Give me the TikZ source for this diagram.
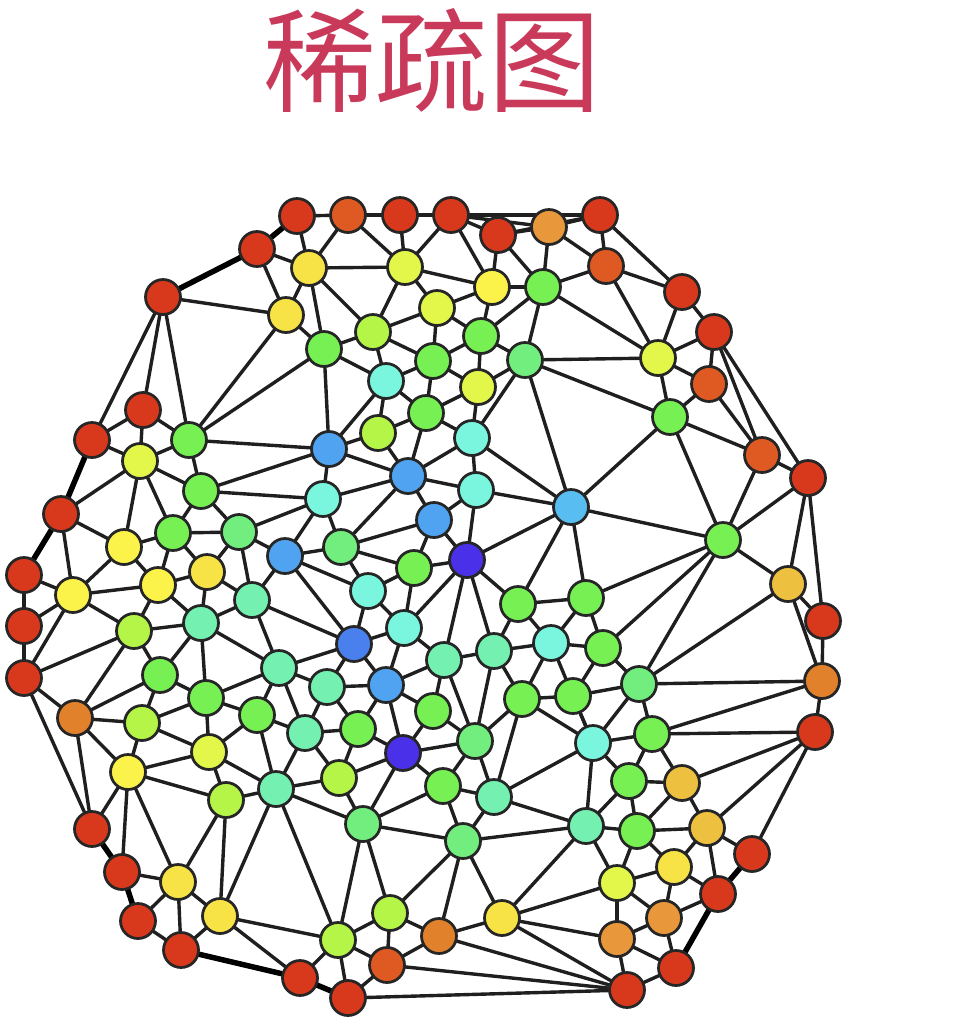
\documentclass[tikz,border=0pt]{standalone}
\usepackage{fontspec}
\newfontfamily\cjk{Noto Sans CJK SC}
\definecolor{cR}{HTML}{D8391C}
\definecolor{cD}{HTML}{DF5A22}
\definecolor{cO}{HTML}{E2812C}
\definecolor{cP}{HTML}{E8973A}
\definecolor{cA}{HTML}{EDC040}
\definecolor{cY}{HTML}{F7E346}
\definecolor{cW}{HTML}{FBF34A}
\definecolor{cE}{HTML}{E2F74A}
\definecolor{cL}{HTML}{B4F548}
\definecolor{cG}{HTML}{76F052}
\definecolor{cF}{HTML}{72EE7E}
\definecolor{cM}{HTML}{74F0B0}
\definecolor{cQ}{HTML}{7AF5DE}
\definecolor{cB}{HTML}{4FA3F0}
\definecolor{cS}{HTML}{58BDF0}
\definecolor{cN}{HTML}{4A80EE}
\definecolor{cI}{HTML}{4A30E8}
\definecolor{titlecol}{HTML}{C9395A}
\pgfdeclarelayer{edges}
\pgfsetlayers{edges,main}
\tikzset{
  vert/.style={circle,draw=black!85,line width=0.055cm,minimum size=0.7cm,inner sep=0pt},
  link/.style={draw=black!88,line width=0.068cm},
  heavy/.style={draw=black,line width=0.11cm},
  titletext/.style={text=titlecol,font=\cjk\fontsize{64}{72}\selectfont,inner sep=0pt}
}
\begin{document}
\begin{tikzpicture}[x=0.02cm,y=-0.02cm]
\useasboundingbox (0,0) rectangle (978,1036);
\node[titletext] (title) at (432,60) {稀疏图};
\foreach \n/\x/\y/\c in {
a1/297/216/R,a2/348/215/D,a3/400/215/R,a4/451/215/R,a5/498/235/R,a6/549/227/P,a7/600/215/R,a8/606/266/D,
a9/682/292/R,a10/714/332/R,a11/709/384/D,a12/762/455/D,a13/808/478/R,a14/788/584/A,a15/823/621/R,a16/822/681/O,
a17/815/732/R,a18/752/854/R,a19/718/894/R,a20/676/968/R,a21/627/990/R,a22/617/939/P,a23/664/918/P,a24/348/998/R,
a25/300/978/R,a26/181/950/R,a27/138/921/R,a28/122/872/R,a29/92/829/R,a30/75/718/O,a31/24/678/R,a32/24/626/R,
a33/24/575/R,a34/61/514/R,a35/92/440/R,a36/143/410/R,a37/163/297/R,a38/257/249/R,
b1/309/268/Y,b2/405/267/E,b3/492/287/W,b4/543/287/G,b5/286/315/Y,b6/437/308/E,b7/373/332/L,b8/324/349/G,
b9/481/336/G,b10/433/361/G,b11/525/360/F,b12/386/381/Q,b13/478/387/E,b14/426/413/G,b15/378/433/L,b16/472/438/Q,
b17/329/449/B,b18/408/476/B,b19/476/490/Q,b20/323/499/Q,b21/571/507/S,b22/434/520/B,b23/467/560/I,b24/285/556/B,
b25/341/547/F,b26/414/568/G,b27/368/591/Q,b28/404/628/Q,b29/354/644/N,b30/444/660/M,b31/494/651/M,b32/518/604/G,
b33/586/598/G,b34/551/643/Q,b35/603/648/G,b36/522/699/G,b37/573/696/G,b38/639/684/F,b39/723/540/G,b40/658/358/E,
b41/670/417/G,b42/386/685/B,b43/327/687/M,b44/433/711/G,b45/279/668/M,b46/305/733/M,b47/358/729/G,b48/403/753/I,
b49/475/741/F,b50/443/786/G,b51/494/797/M,b52/339/778/L,b53/276/789/M,b54/363/824/F,b55/463/841/F,b56/586/826/M,
b57/593/743/Q,b58/652/734/G,b59/629/781/G,b60/682/783/A,b61/637/831/G,b62/707/828/A,b63/674/867/Y,b64/617/883/E,
b65/502/918/Y,b66/439/936/O,b67/390/913/L,b68/338/940/L,b69/387/965/D,b70/220/916/Y,b71/178/882/Y,b72/226/800/L,
b73/128/772/W,b74/209/752/E,b75/142/723/L,b76/257/715/G,b77/206/698/G,b78/160/675/G,b79/134/631/L,b80/201/623/M,
b81/252/600/M,b82/73/595/W,b83/158/585/W,b84/207/572/Y,b85/124/547/W,b86/173/533/G,b87/239/532/F,b88/201/491/G,
b89/140/461/E,b90/189/440/G}
  \node[vert,fill=c\c] (\n) at (\x,\y) {};
\begin{pgfonlayer}{edges}
\foreach \p/\q in {
a1/a2,a2/a3,a3/a4,a4/a5,a4/a6,a5/a6,a6/a7,a5/a7,a4/a7,
a2/b1,a2/b2,a3/b2,a4/b2,a4/b3,a5/b3,a5/b4,a6/b4,a6/a8,a7/a8,a8/b4,a1/b1,a38/b1,a38/b5,b1/b5,b1/b8,b5/b8,b5/b90,b8/b90,
a37/b5,a37/a35,a37/a36,a37/b90,a36/a35,a36/b90,a36/b89,a35/b89,b89/b90,b90/b88,b89/b88,b90/b17,b88/b17,b8/b17,b88/b20,
b1/b2,b2/b3,b2/b6,b2/b7,b1/b7,b3/b4,b3/b6,b3/b9,b4/b9,b4/b11,b6/b7,b6/b9,b6/b10,b7/b8,b7/b10,b7/b12,b8/b12,
b9/b10,b9/b11,b9/b13,b10/b12,b10/b13,b11/b13,b11/b16,b11/b21,b11/b40,b11/b41,b4/b40,b10/b14,b12/b14,b13/b14,b13/b16,
b12/b15,b12/b17,b14/b15,b14/b16,b14/b18,b15/b17,b15/b18,b16/b18,b16/b19,b17/b18,b17/b20,b16/b21,b18/b19,b18/b20,b18/b25,b18/b22,
a7/a9,a8/a9,a8/b40,a9/a10,a9/b40,a10/b40,a10/a11,a11/b40,a11/b41,b40/b41,a10/a12,a10/a13,a11/a12,a12/a13,b41/a12,b41/b21,b41/b39,a12/b39,a13/b39,
b21/b39,b21/b33,b39/b33,b39/b35,b39/b38,a14/b38,b39/a14,a13/a14,a13/a15,a14/a15,a14/a16,a15/a16,a16/b38,a16/b58,a16/a17,a17/b58,a17/b60,a17/b62,a17/a18,
b38/b35,b38/b37,b38/b57,b38/b58,b33/b34,b33/b35,b34/b35,b34/b37,b35/b37,b37/b57,b57/b58,b58/b59,b58/b60,b57/b59,b57/b56,b59/b60,b59/b61,b59/b56,b56/b61,
b60/b61,b60/b62,b61/b62,b61/b63,b61/b64,b56/b64,b62/b63,b62/a18,b62/a19,b63/b64,b63/a19,b63/a23,b64/a23,b64/a22,a23/a22,a23/a19,a23/a20,a22/a20,a22/a21,a20/a21,
b56/b65,b56/b51,b56/b55,b64/b65,b65/a22,b65/a21,a21/b66,a21/b69,a21/a24,b51/b57,
b20/b24,b20/b25,b19/b22,b19/b23,b19/b21,b22/b25,b22/b23,b22/b26,b23/b26,b25/b26,b25/b24,b25/b27,b24/b27,b24/b29,b27/b26,b27/b28,b27/b29,b26/b28,b23/b28,b23/b30,b23/b31,b23/b32,b23/b21,
b21/b32,b28/b29,b28/b30,b28/b42,b29/b45,b29/b43,b29/b42,b30/b42,b30/b31,b30/b44,b30/b49,b31/b34,b31/b32,b31/b36,b31/b49,b32/b33,b32/b34,b34/b36,b36/b37,b36/b49,b36/b57,b37/b57,b36/b51,
b42/b43,b42/b44,b42/b47,b42/b48,b43/b45,b43/b46,b43/b47,b44/b48,b44/b49,b46/b47,b47/b48,b48/b49,b45/b46,b49/b51,b49/b50,b45/b76,b46/b76,b46/b53,b46/b52,b47/b52,b48/b52,b48/b50,b48/b54,
b89/a34,b89/b85,b89/b86,b88/b86,b88/b87,b87/b20,b86/b87,b85/b86,b86/b83,b86/b84,a34/b85,a34/b82,a33/b82,a33/a32,a32/a31,a32/b82,a31/b82,b85/b83,b85/b82,b82/b83,b82/b79,b83/b84,b83/b79,b83/b80,
b84/b87,b84/b80,b84/b81,b87/b81,b87/b24,b24/b81,b81/b80,b81/b45,b81/b29,b79/b80,b79/b78,b79/a31,b79/a30,b80/b78,b80/b77,b80/b45,b78/a30,b78/b77,b78/b75,b77/b75,b77/b45,b77/b76,b77/b74,b76/b74,b76/b53,
a31/a30,a31/a29,a30/b75,a30/b73,a30/a29,b75/b74,b75/b73,b73/b74,b74/b53,b74/b72,
b73/a29,b73/a28,b73/b71,b73/b72,b72/b53,b72/b71,b72/b70,b53/b70,b53/b68,b53/b52,b53/b54,a28/b71,b71/a27,b71/a26,b71/b70,a27/a26,a26/b70,b70/a25,b70/b68,a25/b68,
b52/b54,b50/b51,b50/b54,b50/b55,b51/b55,b54/b55,b54/b68,b54/b67,b55/b67,b55/b66,b55/b65,b67/b68,b67/b66,b67/b69,b68/b69,b68/a24,b69/b66,b69/a24,b66/b65}
  \draw[link] (\p.center) -- (\q.center);
\foreach \p/\q in {a1/a38,a38/a37,a35/a34,a34/a33,a29/a28,a28/a27,a26/a25,a25/a24,a18/a19,a19/a20}
  \draw[heavy] (\p.center) -- (\q.center);
\end{pgfonlayer}
\end{tikzpicture}
\end{document}
